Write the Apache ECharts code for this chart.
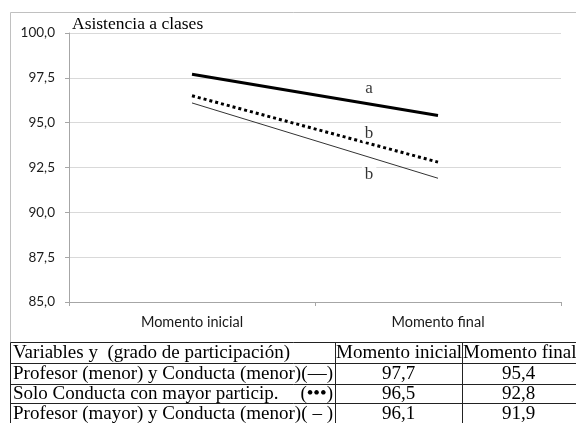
<!DOCTYPE html>
<html>
<head>
<meta charset="utf-8">
<script src="https://cdn.jsdelivr.net/npm/echarts@6/dist/echarts.min.js"></script>
<style>
html,body{margin:0;padding:0;background:#fff;}
#chart{width:576px;height:423px;}
</style>
</head>
<body>
<div id="chart"></div>
<script>
// ---- data ----
var categories = ['Momento inicial', 'Momento final'];
var serieA = [97.7, 95.4];   // Profesor (menor) y Conducta (menor)
var serieB = [96.5, 92.8];   // Solo Conducta con mayor particip.
var serieC = [96.1, 91.9];   // Profesor (mayor) y Conducta (menor)
var yTicks = [85, 87.5, 90, 92.5, 95, 97.5, 100];
var title = 'Asistencia a clases';
var annotText = ['a', 'b', 'b'];
var annotX = [0.72, 0.72, 0.72];
var annotY = [96.93, 94.42, 92.12];
var tableHeader = ['Variables y  (grado de participación)', 'Momento inicial', 'Momento final'];
var rowLabels = ['Profesor (menor) y Conducta (menor)', 'Solo Conducta con mayor particip.', 'Profesor (mayor) y Conducta (menor)'];
var rowSymbols = ['(\u2014)', '(\u2022\u2022\u2022)', '( \u2013 )'];

function fmt(v){ return v.toFixed(1).replace('.', ','); }

var chart = echarts.init(document.getElementById('chart'), null, {renderer:'canvas'});

// table graphics
var rowsVals = [serieA, serieB, serieC];
var rowY = [342.5, 363.5, 384.5, 403.5];
var colX = [10.5, 335.5, 462.5];
var serif = '"Liberation Serif", "Times New Roman", serif';
var graphics = [];
// chart outer border (top and left)
graphics.push({type:'line', shape:{x1:10.5, y1:12.5, x2:576, y2:12.5}, style:{stroke:'#c0c0c0', lineWidth:1}, silent:true});
graphics.push({type:'line', shape:{x1:10.5, y1:12.5, x2:10.5, y2:342.5}, style:{stroke:'#c0c0c0', lineWidth:1}, silent:true});
// table lines
rowY.forEach(function(y){
  graphics.push({type:'line', shape:{x1:10.5, y1:y, x2:576, y2:y}, style:{stroke:'#222', lineWidth:1}, silent:true});
});
colX.forEach(function(x){
  graphics.push({type:'line', shape:{x1:x, y1:342.5, x2:x, y2:423}, style:{stroke:'#222', lineWidth:1}, silent:true});
});
var rowCenters = [353, 374, 394.5, 414];
var textStyleBase = {font:'19px ' + serif, fill:'#000', verticalAlign:'middle'};
graphics.push({type:'text', x:13, y:rowCenters[0], style:Object.assign({}, textStyleBase, {text:tableHeader[0], align:'left'}), silent:true});
graphics.push({type:'text', x:336, y:rowCenters[0], style:Object.assign({}, textStyleBase, {text:tableHeader[1], align:'left'}), silent:true});
graphics.push({type:'text', x:463, y:rowCenters[0], style:Object.assign({}, textStyleBase, {text:tableHeader[2], align:'left'}), silent:true});
for (var r = 0; r < rowLabels.length; r++) {
  var cy = rowCenters[r+1];
  graphics.push({type:'text', x:13, y:cy, style:Object.assign({}, textStyleBase, {text:rowLabels[r], align:'left'}), silent:true});
  graphics.push({type:'text', x:333, y:cy, style:Object.assign({}, textStyleBase, {text:rowSymbols[r], align:'right'}), silent:true});
  graphics.push({type:'text', x:398.5, y:cy, style:Object.assign({}, textStyleBase, {text:fmt(rowsVals[r][0]), align:'center'}), silent:true});
  graphics.push({type:'text', x:518.5, y:cy, style:Object.assign({}, textStyleBase, {text:fmt(rowsVals[r][1]), align:'center'}), silent:true});
}
// title
graphics.push({type:'text', x:72, y:24, style:{text:title, font:'17.5px ' + serif, fill:'#000', align:'left', verticalAlign:'middle'}, silent:true});

var annotData = annotX.map(function(x, i){ return [x, annotY[i]]; });

var option = {
  animation: false,
  backgroundColor: '#fff',
  grid: {left:69, right:15, top:33, bottom:121, containLabel:false},
  xAxis: [{
    type:'category', data:categories, boundaryGap:true,
    axisLine:{show:true, onZero:false, lineStyle:{color:'#a6a6a6', width:1}},
    axisTick:{show:true, length:4, lineStyle:{color:'#a6a6a6'}},
    axisLabel:{color:'#1a1a1a', fontFamily:'Lato', fontSize:14.5, margin:13},
    splitLine:{show:false}
  }, {
    type:'value', min:-0.5, max:1.5, show:false
  }],
  yAxis: {
    type:'value', min:yTicks[0], max:yTicks[yTicks.length-1], interval:yTicks[1]-yTicks[0],
    axisLine:{show:true, onZero:false, lineStyle:{color:'#a6a6a6', width:1}},
    axisTick:{show:true, length:4, lineStyle:{color:'#a6a6a6'}},
    axisLabel:{color:'#1a1a1a', fontFamily:'Lato', fontSize:13.5, margin:14, formatter:function(v){return fmt(v);}},
    splitLine:{show:true, lineStyle:{color:'#d9d9d9', width:1}}
  },
  series: [
    {type:'line', name:rowLabels[0], data:serieA, symbol:'none', lineStyle:{color:'#000', width:3, type:'solid'}, z:3},
    {type:'line', name:rowLabels[1], data:serieB, symbol:'none', lineStyle:{color:'#000', width:3, type:[3,3]}, z:3},
    {type:'line', name:rowLabels[2], data:serieC, symbol:'none', lineStyle:{color:'#333', width:1, type:'solid'}, z:3},
    {type:'scatter', xAxisIndex:1, data:annotData, symbolSize:0, z:4,
      label:{show:true, position:'inside', formatter:function(p){return annotText[p.dataIndex];},
        fontFamily:serif, fontSize:17, color:'#000', backgroundColor:'#fff', padding:[0,3]}}
  ],
  graphic: graphics
};
chart.setOption(option);
</script>
</body>
</html>
